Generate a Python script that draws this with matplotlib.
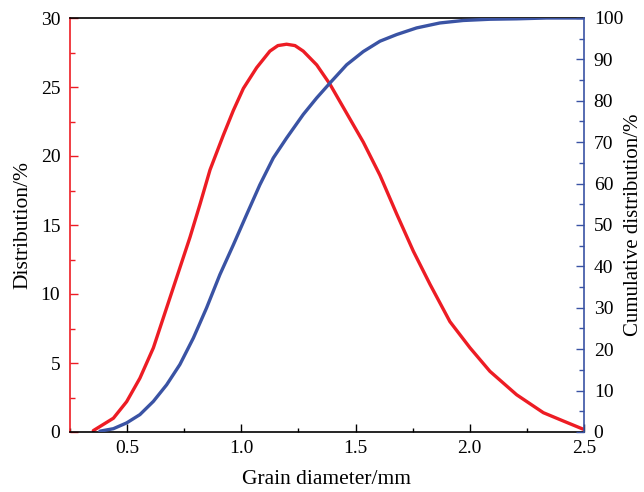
import numpy as np
import matplotlib.pyplot as plt
from matplotlib.ticker import MultipleLocator

plt.rcParams['font.family'] = ['Liberation Serif', 'DejaVu Serif']

# korrelverdeling (links, %)
diam_dist = [0.352, 0.440, 0.498, 0.556, 0.615, 0.673, 0.731, 0.775, 0.819, 0.863, 0.921,
             0.965, 1.009, 1.067, 1.125, 1.160, 1.198, 1.235, 1.271, 1.330, 1.388, 1.461,
             1.534, 1.607, 1.680, 1.753, 1.826, 1.913, 2.001, 2.088, 2.205, 2.322, 2.409, 2.497]
distributie = [0.1, 1.0, 2.2, 3.9, 6.1, 9.0, 11.9, 14.1, 16.5, 19.0, 21.5,
               23.3, 24.9, 26.4, 27.6, 28.0, 28.1, 28.0, 27.6, 26.6, 25.2, 23.1,
               21.0, 18.6, 15.8, 13.1, 10.7, 8.0, 6.1, 4.4, 2.7, 1.4, 0.8, 0.2]

# cumulatieve verdeling (rechts, %)
diam_cum = [0.381, 0.440, 0.498, 0.556, 0.615, 0.673, 0.731, 0.790, 0.848, 0.906, 0.965,
            1.023, 1.081, 1.140, 1.198, 1.271, 1.330, 1.388, 1.461, 1.534, 1.607, 1.680,
            1.767, 1.869, 1.971, 2.088, 2.205, 2.336, 2.497]
cumulatief = [0.2, 0.8, 2.2, 4.2, 7.4, 11.4, 16.3, 22.7, 30.0, 38.0, 45.2,
              52.5, 59.7, 66.2, 71.0, 76.7, 80.7, 84.3, 88.7, 91.9, 94.4, 96.0,
              97.6, 98.8, 99.4, 99.7, 99.8, 100.0, 100.0]

rood = '#ED1C24'
blauw = '#3A53A4'

fig = plt.figure(figsize=(6.44, 4.92), dpi=100)
ax1 = fig.add_axes([70/644, 60/492, 514/644, 414/492])
ax2 = ax1.twinx()

ax1.plot(diam_dist, distributie, color=rood, lw=2.4, solid_capstyle='round', solid_joinstyle='round')
ax2.plot(diam_cum, cumulatief, color=blauw, lw=2.4, solid_capstyle='round', solid_joinstyle='round')

ax1.set_xlim(0.25, 2.5)
ax1.set_ylim(0, 30)
ax2.set_ylim(0, 100)

ax1.xaxis.set_minor_locator(MultipleLocator(0.25))
ax1.yaxis.set_major_locator(MultipleLocator(5))
ax1.yaxis.set_minor_locator(MultipleLocator(2.5))
ax2.yaxis.set_major_locator(MultipleLocator(10))
ax2.yaxis.set_minor_locator(MultipleLocator(5))

ax1.set_xticks([0.5, 1.0, 1.5, 2.0, 2.5])
ax1.set_xticklabels(['0.5', '1.0', '1.5', '2.0', '2.5'])

ax1.tick_params(axis='x', which='major', direction='in', length=6, width=1, labelsize=14, pad=6, top=False)
ax1.tick_params(axis='x', which='minor', direction='in', length=3, width=1, top=False)
ax1.tick_params(axis='y', which='major', direction='in', length=6, width=1, color=rood, labelsize=14, pad=7)
ax1.tick_params(axis='y', which='minor', direction='in', length=3.5, width=1, color=rood)
ax2.tick_params(axis='y', which='major', direction='in', length=6, width=1, color=blauw, labelsize=14, pad=7)
ax2.tick_params(axis='y', which='minor', direction='in', length=3.5, width=1, color=blauw)

ax1.spines['left'].set_color(rood)
ax1.spines['right'].set_visible(False)
for sp in ax1.spines.values():
    sp.set_linewidth(1.2)
ax2.spines['right'].set_color(blauw)
ax2.spines['right'].set_linewidth(1.2)
ax2.spines['bottom'].set_visible(False)
ax2.spines['top'].set_visible(False)
ax2.spines['left'].set_visible(False)

ax1.set_xlabel('Grain diameter/mm', fontsize=15.5, labelpad=9)
ax1.set_ylabel('Distribution/%', fontsize=15.5, labelpad=6)
ax2.set_ylabel('Cumulative distribution/%', fontsize=15, labelpad=1)

fig.savefig('out.png', dpi=100)
